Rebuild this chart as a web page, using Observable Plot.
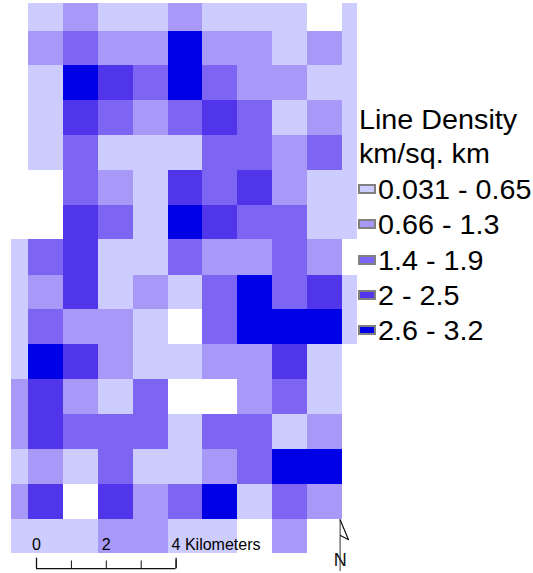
<!DOCTYPE html>
<html>
<head>
<meta charset="utf-8">
<script src="https://cdn.jsdelivr.net/npm/d3@7"></script>
<script src="https://cdn.jsdelivr.net/npm/@observablehq/plot@0.6"></script>
<style>
html,body{margin:0;padding:0;background:#fff}
#wrap{position:relative;width:533px;height:573px;overflow:hidden;font-family:"Liberation Sans",Arial,sans-serif}
#legend{position:absolute;left:358px;top:0;color:#000;font-size:27.5px;line-height:1}
#legend div{position:absolute;white-space:nowrap;transform-origin:0 100%;transform:scaleX(1.045)}
#legend i{position:absolute;width:14px;height:6px;border:2px solid #808080;box-sizing:content-box}
</style>
</head>
<body>
<div id="wrap"></div>
<script>
// Map units are kilometres, measured from the zero of the scale bar and the top of the page.
const kmPerPx = 1 / 34.9;
const columnEdges = [-0.72, -0.23, 0.77, 1.77, 2.77, 3.77, 4.77, 5.77, 6.77, 7.77, 8.77, 9.2];
const rowEdges = [0.09, 0.89, 1.86, 2.86, 3.87, 4.87, 5.87, 6.85, 7.88, 8.85, 9.86, 10.86, 11.86, 12.87, 13.87, 14.87, 15.85];

const classLabels = ["0.031 - 0.65", "0.66 - 1.3", "1.4 - 1.9", "2 - 2.5", "2.6 - 3.2"];
const classColors = ["#ccccff", "#a899f9", "#7e64f2", "#5035ea", "#0000e6"];

// Class number of each cell: 0 = no data, 1..5 = index into classLabels + 1
const densityClass = [
  [0,1,2,1,1,2,1,1,1,0,1],
  [0,2,3,2,2,5,2,2,1,2,1],
  [0,1,5,4,3,5,3,2,2,1,1],
  [0,1,4,3,2,3,4,3,1,2,1],
  [0,1,3,1,1,1,3,3,2,3,1],
  [0,0,3,2,1,4,3,4,2,1,1],
  [0,0,4,3,1,5,4,3,3,1,1],
  [1,3,4,1,1,3,2,2,3,2,0],
  [1,2,4,1,2,1,3,5,3,4,1],
  [1,3,2,2,1,0,3,5,5,5,1],
  [1,5,4,2,1,1,2,2,4,1,0],
  [2,4,2,1,3,0,0,2,3,1,0],
  [2,4,3,3,3,1,3,3,1,2,0],
  [1,2,1,3,1,1,2,3,5,5,0],
  [2,4,0,4,2,3,5,1,3,2,0],
  [1,1,1,2,2,1,1,0,2,0,0]
];

const scaleTicks = [0, 1, 2, 3, 4];
const scaleLabels = [0, 2, 4];
const scaleEnds = [0, 4];
const scaleBarY = 16.28;
const scaleLabelY = 15.59;
const northShaft = [[8.7, 14.88], [8.7, 16.33]];
const northHead = [[8.7, 14.88], [8.94, 15.45], [8.71, 15.33]];

const cells = densityClass.flatMap((row, r) =>
  row.flatMap((c, i) => c === 0 ? [] : [{
    x1: columnEdges[i], x2: columnEdges[i + 1],
    y1: rowEdges[r], y2: rowEdges[r + 1],
    label: classLabels[c - 1]
  }])
);

const textFont = '"Liberation Sans", Arial, sans-serif';
const chart = Plot.plot({
  width: 533, height: 573,
  margin: 0,
  x: {domain: [-36 * kmPerPx, 497 * kmPerPx], range: [0, 533], axis: null},
  y: {domain: [0, 573 * kmPerPx], range: [0, 573], axis: null},
  color: {type: "ordinal", domain: classLabels, range: classColors},
  style: {background: "#fff"},
  marks: [
    Plot.rect(cells, {x1: "x1", x2: "x2", y1: "y1", y2: "y2", fill: "label", shapeRendering: "crispEdges"}),
    Plot.ruleY([scaleBarY], {x1: scaleEnds[0], x2: scaleEnds[1], stroke: "#111", strokeWidth: 1.3}),
    Plot.ruleX(scaleTicks, {y1: scaleBarY - 0.22, y2: scaleBarY, stroke: "#111", strokeWidth: 1}),
    Plot.ruleX(scaleEnds, {y1: scaleBarY - 0.3, y2: scaleBarY, stroke: "#111", strokeWidth: 1.3}),
    Plot.text(scaleLabels.slice(0, 2), {x: d => d, y: scaleLabelY, text: d => String(d), fontSize: 16, fontFamily: textFont, fill: "#000"}),
    Plot.text([scaleLabels[2]], {x: d => d, y: scaleLabelY, text: d => d + " Kilometers", textAnchor: "start", dx: -4.5, fontSize: 16, fontFamily: textFont, fill: "#000"}),
    Plot.line(northShaft, {x: d => d[0], y: d => d[1], stroke: "#555", strokeWidth: 1.2}),
    Plot.line(northHead, {x: d => d[0], y: d => d[1], stroke: "#111", strokeWidth: 1.2}),
    Plot.text(["N"], {x: northShaft[0][0], y: 16.03, text: d => d, fontSize: 18, fontFamily: textFont, fill: "#111"})
  ]
});

const wrap = document.getElementById("wrap");
wrap.appendChild(chart);

// Legend beside the map
const legend = document.createElement("div");
legend.id = "legend";
const titleLines = [["Line Density", 130], ["km/sq. km", 164]];
const legendBaselines = [200, 235, 271, 306, 341];
for (const [t, base] of titleLines) {
  const d = document.createElement("div");
  d.textContent = t;
  d.style.left = "1px";
  d.style.top = (base - 24) + "px";
  legend.appendChild(d);
}
classLabels.forEach((t, i) => {
  const d = document.createElement("div");
  d.textContent = t;
  d.style.left = "20px";
  d.style.top = (legendBaselines[i] - 24) + "px";
  legend.appendChild(d);
  const s = document.createElement("i");
  s.style.left = "0px";
  s.style.top = (legendBaselines[i] - 16) + "px";
  s.style.background = classColors[i];
  legend.appendChild(s);
});
wrap.appendChild(legend);
</script>
</body>
</html>
